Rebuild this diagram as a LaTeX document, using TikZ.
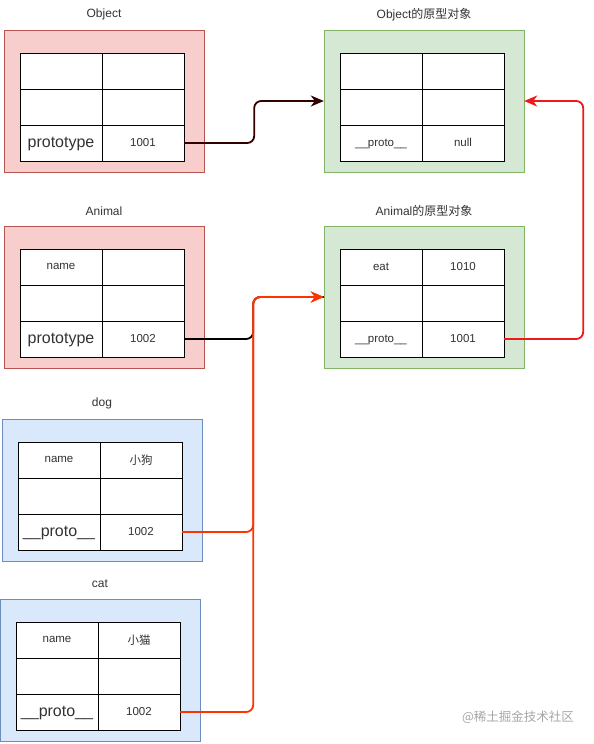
\documentclass[tikz,border=0pt]{standalone}
\usepackage{fontspec}
\setmainfont{Liberation Sans}
\newfontfamily\cjk{Noto Sans CJK SC}
\usetikzlibrary{arrows.meta,positioning,calc}
\definecolor{pinkfill}{HTML}{F8CECC}
\definecolor{pinkline}{HTML}{B85450}
\definecolor{greenfill}{HTML}{D5E8D4}
\definecolor{greenline}{HTML}{82B366}
\definecolor{bluefill}{HTML}{DAE8FC}
\definecolor{blueline}{HTML}{6C8EBF}
\definecolor{darklink}{HTML}{330000}
\definecolor{redlink}{HTML}{FF3300}
\definecolor{protolink}{HTML}{F01818}
\definecolor{textgray}{HTML}{333333}
\begin{document}
\begin{tikzpicture}[
                    x=1pt, y=-1pt,
                    container/.style={
                        rectangle,
                        minimum width=200pt,
                        minimum height=142pt,
                        inner sep=0pt
                    },
                    constructor/.style={container, draw=pinkline, fill=pinkfill},
                    protoobj/.style={container, draw=greenline, fill=greenfill},
                    instance/.style={container, draw=blueline, fill=bluefill},
                    title/.style={
                        inner sep=0pt,
                        text=textgray,
                        font=\fontsize{12}{14}\selectfont
                    },
                    cell/.style={
                        rectangle,
                        draw=black,
                        fill=white,
                        minimum width=82pt,
                        minimum height=36pt,
                        inner sep=0pt,
                        text=textgray,
                        text depth=0.5pt,
                        font=\fontsize{11.5}{13}\selectfont
                    },
                    big/.style={font=\fontsize{16}{18}\selectfont},
                    link/.style={
                        ->,
                        line width=1.8pt,
                        rounded corners=7pt
                    },
                    >={Stealth[length=13pt,width=11pt,inset=4pt]}
                ]
                \useasboundingbox (0,0) rectangle (594,744);
                \newcommand{\mkbox}[5]{
                    \node (#1) [#2] at (#3,#4) {};
                    \node (#1-t) [title] at ($(#1.north)+(0,-15)$) {#5};
                }
                \newcommand{\mkrow}[5]{
                    \node (#1-#2l) [cell,#5] at ($(#1)+(-43,{36*#2-66})$) {#3};
                    \node (#1-#2r) [cell] at ($(#1)+(39,{36*#2-66})$) {#4};
                }
                \mkbox{obj}{constructor}{104}{101}{Object}
                \mkrow{obj}{1}{}{}{}
                \mkrow{obj}{2}{}{}{}
                \mkrow{obj}{3}{prototype}{1001}{big}

                \mkbox{objp}{protoobj}{424}{101}{Object{\cjk 的原型对象}}
                \mkrow{objp}{1}{}{}{}
                \mkrow{objp}{2}{}{}{}
                \mkrow{objp}{3}{\_\_proto\_\_}{null}{}

                \mkbox{ani}{constructor}{104}{297}{Animal}
                \mkrow{ani}{1}{name}{}{}
                \mkrow{ani}{2}{}{}{}
                \mkrow{ani}{3}{prototype}{1002}{big}

                \mkbox{anip}{protoobj}{424}{297}{Animal{\cjk 的原型对象}}
                \mkrow{anip}{1}{eat}{1010}{}
                \mkrow{anip}{2}{}{}{}
                \mkrow{anip}{3}{\_\_proto\_\_}{1001}{}

                \mkbox{dog}{instance}{102}{490}{dog}
                \mkrow{dog}{1}{name}{{\cjk 小狗}}{}
                \mkrow{dog}{2}{}{}{}
                \mkrow{dog}{3}{\_\_proto\_\_}{1002}{big}

                \mkbox{cat}{instance}{100}{670}{cat}
                \mkrow{cat}{1}{name}{{\cjk 小猫}}{}
                \mkrow{cat}{2}{}{}{}
                \mkrow{cat}{3}{\_\_proto\_\_}{1002}{big}

                \node (mark) [text=gray!70, font=\cjk\fontsize{12.5}{14}\selectfont] at (518,717) {@稀土掘金技术社区};

                \draw [link, draw=darklink] (obj-3r.east) -- ++(70,0) |- (objp.west);
                \draw [link, -, draw=black] (ani-3r.east) -- ++(69,0) |- (anip.west);
                \draw [link, draw=redlink] (dog-3r.east) -- ++(71,0) |- (anip.west);
                \draw [link, draw=redlink] (cat-3r.east) -- ++(73,0) |- (anip.west);
                \draw [link, draw=protolink] (anip-3r.east) -- ++(79,0) |- (objp.east);
            \end{tikzpicture}
\end{document}
